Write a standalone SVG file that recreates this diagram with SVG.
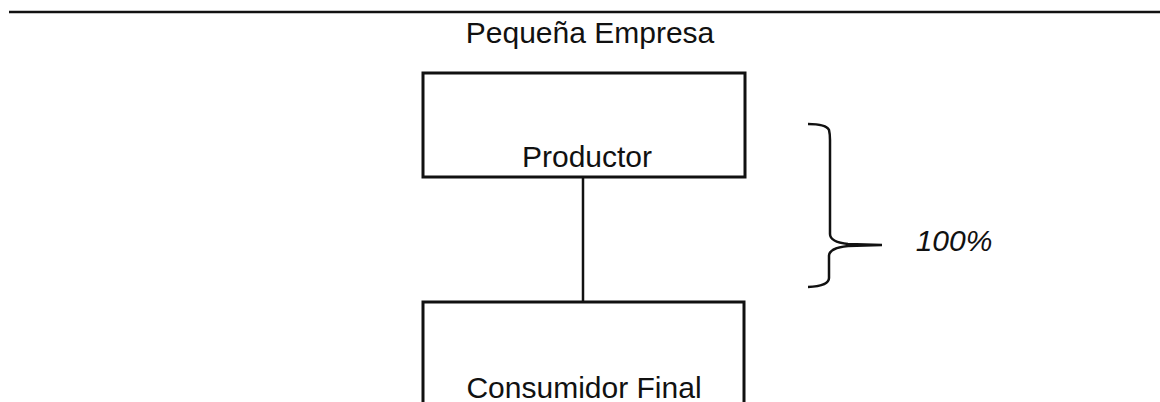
<svg xmlns="http://www.w3.org/2000/svg" width="1160" height="402" viewBox="0 0 1160 402">
<style>
.box{fill:#fff;stroke:#111;stroke-width:3}
.ln{fill:none;stroke:#111;stroke-width:2.5}
.t{font-family:"Liberation Sans",Arial,sans-serif;font-size:30px;fill:#111;text-anchor:middle}
</style>
<rect width="1160" height="402" fill="#fff"/>
<line x1="9" y1="12" x2="1160" y2="12" stroke="#111" stroke-width="2.5"/>
<text class="t" x="590" y="43">Pequeña Empresa</text>
<g id="connectors">
<line class="ln" x1="583" y1="177" x2="583" y2="302"/>
</g>
<g id="productor">
<rect class="box" x="423" y="73" width="322" height="104"/>
<text class="t" x="587" y="167">Productor</text>
</g>
<g id="consumidor">
<rect class="box" x="423" y="302" width="321" height="120"/>
<text class="t" x="584" y="398">Consumidor Final</text>
</g>
<g id="bracket">
<path class="ln" d="M808,124 Q826,124 829,130 Q830,134 830,140 L830,234 Q830,242 848,244 L882,245 M882,245 L848,246 Q829,248 829,256 L829,278 Q829,286 808,287"/>
<text class="t" x="954" y="251" font-style="italic">100%</text>
</g>
</svg>
